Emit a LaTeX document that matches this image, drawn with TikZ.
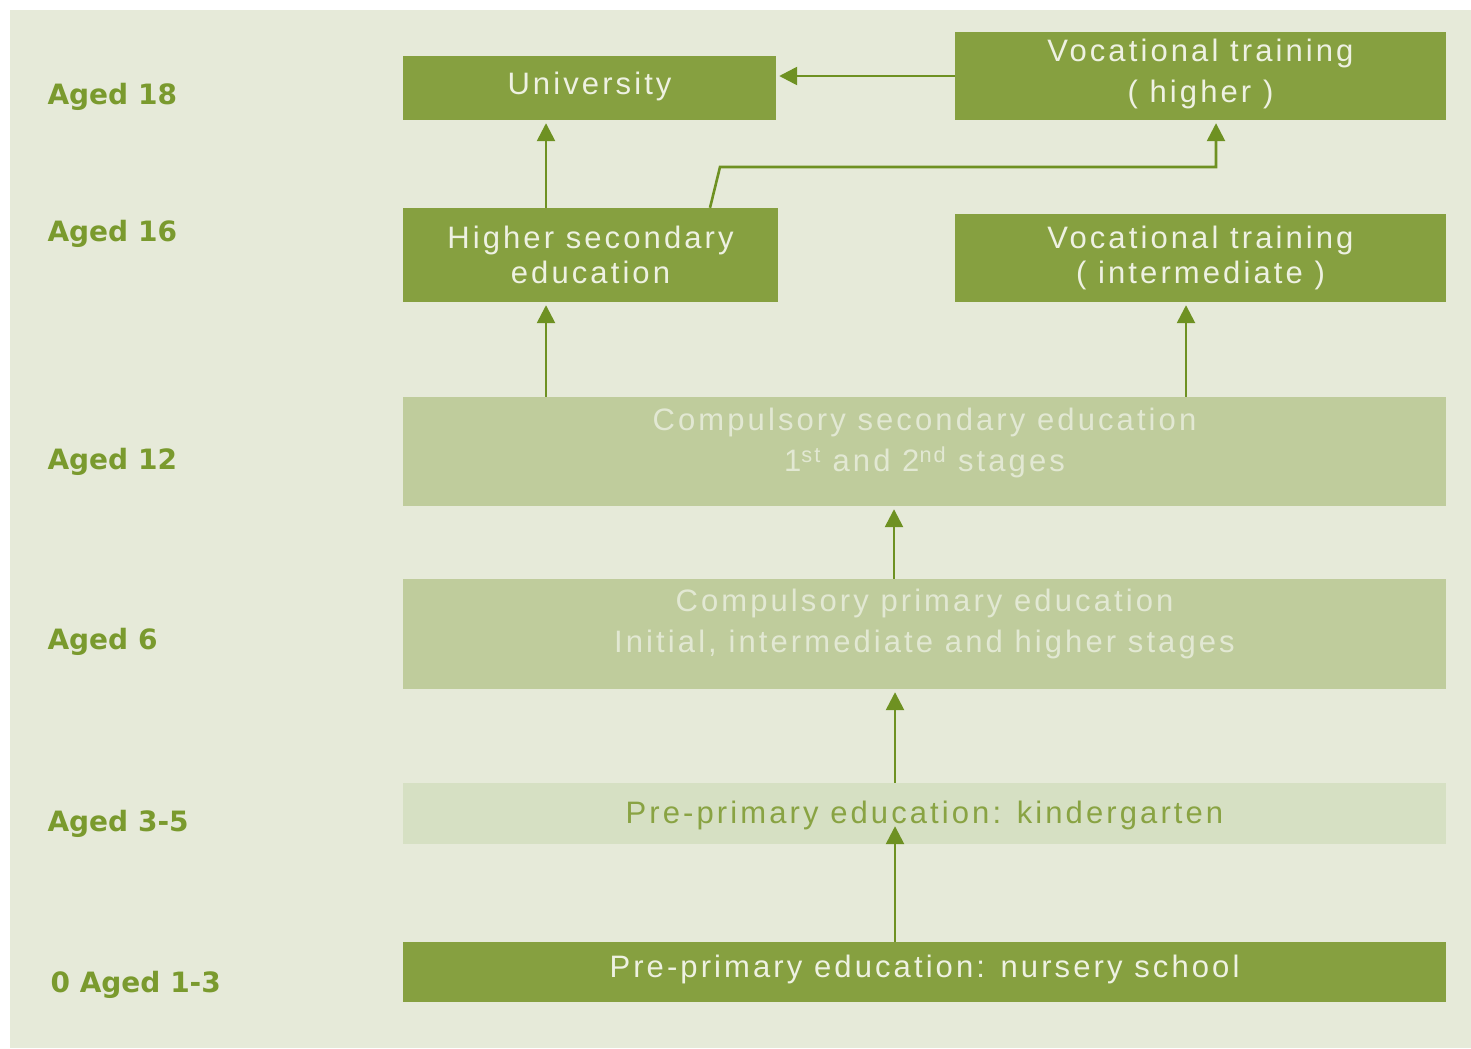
\documentclass[tikz,border=0pt]{standalone}
\usepackage{fontspec}
\setmainfont{Liberation Sans}
\newfontfamily\boxfont[LetterSpace=10]{Liberation Sans}
\newfontfamily\labfont{DejaVu Sans}
\usetikzlibrary{arrows.meta}
\definecolor{bgc}{HTML}{E6EAD9}
\definecolor{darkc}{HTML}{86A040}
\definecolor{lightc}{HTML}{BFCC9C}
\definecolor{paleC}{HTML}{D6E0C3}
\definecolor{labc}{HTML}{7A9A2E}
\definecolor{arrc}{HTML}{6E9122}
\definecolor{wtext}{HTML}{EEF1E2}
\definecolor{ltext}{HTML}{E2E8D3}
\definecolor{ktext}{HTML}{89A343}
\begin{document}
\begin{tikzpicture}[x=1bp,y=-1bp,
  boxbase/.style={draw=none, inner sep=0pt, align=center},
  darkbox/.style={boxbase, fill=darkc, text=wtext},
  lightbox/.style={boxbase, fill=lightc, text=ltext},
  palebox/.style={boxbase, fill=paleC, text=ktext},
  bf/.style={font=\boxfont\fontsize{31bp}{#1}\selectfont},
  flow/.style={draw=arrc, line width=2.6bp, -{Triangle[length=18bp,width=18bp]}, shorten >=3bp},
  age/.style={anchor=base west, text=labc, font=\labfont\bfseries\fontsize{28bp}{34bp}\selectfont}
]
\useasboundingbox (0,0) rectangle (1471,1048);
\fill[white] (0,0) rectangle (1471,1048);
\fill[bgc] (10,10) rectangle (1471,1048);

% boxes
\node[darkbox, bf=41bp, minimum width=373bp, minimum height=64bp, text depth=9bp] (univ) at (589.5,88) {University};
\node[darkbox, bf=41bp, minimum width=491bp, minimum height=88bp, text depth=10bp] (vhigh) at (1200.5,76) {Vocational training\\( higher )};
\node[darkbox, bf=35bp, minimum width=375bp, minimum height=94bp] (hsec) at (590.5,255) {Higher secondary\\education};
\node[darkbox, bf=35bp, minimum width=491bp, minimum height=88bp] (vint) at (1200.5,258) {Vocational training\\( intermediate )};
\node[lightbox, bf=41bp, minimum width=1043bp, minimum height=109bp, text depth=24bp] (csec) at (924.5,451.5) {Compulsory secondary education\\1\textsuperscript{st} and 2\textsuperscript{nd} stages};
\node[lightbox, bf=41bp, minimum width=1043bp, minimum height=110bp, text depth=26bp] (cprim) at (924.5,634) {Compulsory primary education\\Initial, intermediate and higher stages};
\node[palebox, bf=41bp, minimum width=1043bp, minimum height=61bp, text depth=3bp] (kinder) at (924.5,813.5) {Pre-primary education: kindergarten};
\node[darkbox, bf=41bp, minimum width=1043bp, minimum height=60bp, text depth=12bp] (nursery) at (924.5,972) {Pre-primary education: nursery school};

% column coordinates
\coordinate (xa) at (546,0);
\coordinate (xb) at (710,0);
\coordinate (bend) at (720,167);
\coordinate (xc) at (1216,0);
\coordinate (xd) at (1186,0);
\coordinate (xe) at (894,0);
\coordinate (xf) at (895,0);

% connectors
\draw[flow] (vhigh.west) -- (vhigh.west -| univ.east);
\draw[flow] (xa |- hsec.north) -- (xa |- univ.south);
\draw[flow] (xb |- hsec.north) -- (bend) -- (bend -| xc) -- (xc |- vhigh.south);
\draw[flow] (xa |- csec.north) -- (xa |- hsec.south);
\draw[flow] (xd |- csec.north) -- (xd |- vint.south);
\draw[flow] (xe |- cprim.north) -- (xe |- csec.south);
\draw[flow] (xf |- kinder.north) -- (xf |- cprim.south);
\draw[flow, shorten >=0pt] (xf |- nursery.north) -- ([yshift=18bp]xf |- kinder.south);

% age labels
\node[age] (a18) at (44,104) {Aged 18};
\node[age] (a16) at (44,241) {Aged 16};
\node[age] (a12) at (44,469) {Aged 12};
\node[age] (a6) at (44,649) {Aged 6};
\node[age] (a35) at (44,831) {Aged 3-5};
\node[age] (a13) at (47,992) {0 Aged 1-3};
\end{tikzpicture}
\end{document}
